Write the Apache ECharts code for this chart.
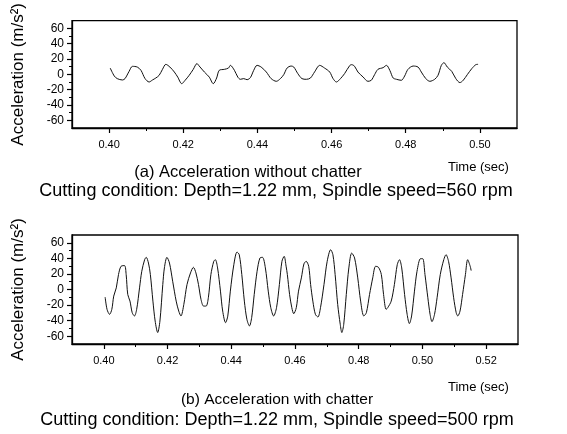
<!DOCTYPE html>
<html><head><meta charset="utf-8">
<script src="https://cdn.jsdelivr.net/npm/echarts@6/dist/echarts.min.js"></script>
<style>html,body{margin:0;padding:0;background:#fff}#c{width:567px;height:434px}</style>
</head><body><div id="c"></div>
<script>
// (a) without chatter: time (s), acceleration (m/s^2)
const timeA = [0.4003,0.4014,0.4022,0.4036,0.4043,0.4054,0.4063,0.4076,0.4086,0.4097,0.4108,0.4117,0.4126,0.4135,0.4144,0.4153,0.4164,0.4176,0.4185,0.4196,0.4205,0.4216,0.4227,0.4237,0.4243,0.4257,0.4270,0.4281,0.4290,0.4297,0.4311,0.4322,0.4327,0.4338,0.4347,0.4354,0.4363,0.4372,0.4381,0.4390,0.4399,0.4410,0.4424,0.4437,0.4451,0.4462,0.4471,0.4480,0.4491,0.4498,0.4509,0.4520,0.4532,0.4543,0.4554,0.4568,0.4581,0.4595,0.4604,0.4613,0.4624,0.4635,0.4649,0.4654,0.4662,0.4671,0.4685,0.4698,0.4707,0.4716,0.4725,0.4739,0.4748,0.4757,0.4766,0.4775,0.4788,0.4797,0.4806,0.4820,0.4833,0.4842,0.4854,0.4865,0.4878,0.4887,0.4896,0.4903,0.4912,0.4924,0.4935,0.4946,0.4955,0.4966,0.4978,0.4989,0.4995];
const accelA = [8.2,-2.2,-5.6,-7.4,-5.6,3.9,10.4,9.5,5.2,-5.6,-10,-7.4,-4.8,-1.3,6.5,13,9.5,3,-3.5,-12.2,-7.8,-1.3,6.5,14,10.8,3,-3.5,-12.2,-4.8,5.2,6.5,8.2,11.7,5.2,-3.5,-6.5,-5.6,-7,-4.3,5.2,11.7,9.5,3,-5.6,-9.1,-5.6,-0.4,8.2,10.8,9.5,0.9,-5.6,-6.5,-4.8,3,11.7,8.2,3,-5.6,-10,-5.6,0.9,11.5,12.6,10.5,3,-3.5,-9.1,-7.8,-0.4,6.5,8.7,11.7,5.2,-4.8,-6.5,-7.8,-2.2,6.5,10.8,9.5,3,-5.6,-9.1,-6.5,-1.3,11.7,15.2,9.5,3.9,-5.6,-10.8,-7.8,-0.4,7.4,12.6,13];
// (b) with chatter
const timeB = [0.4004,0.4010,0.4018,0.4025,0.4031,0.4039,0.4046,0.4054,0.4065,0.4070,0.4075,0.4082,0.4089,0.4096,0.4103,0.4112,0.4119,0.4128,0.4133,0.4140,0.4146,0.4154,0.4161,0.4169,0.4176,0.4185,0.4190,0.4198,0.4206,0.4216,0.4227,0.4235,0.4242,0.4251,0.4261,0.4272,0.4281,0.4289,0.4297,0.4305,0.4313,0.4321,0.4328,0.4336,0.4345,0.4350,0.4357,0.4366,0.4373,0.4382,0.4389,0.4397,0.4408,0.4418,0.4425,0.4433,0.4441,0.4449,0.4457,0.4464,0.4472,0.4481,0.4490,0.4498,0.4507,0.4516,0.4524,0.4533,0.4542,0.4551,0.4559,0.4566,0.4572,0.4576,0.4583,0.4590,0.4596,0.4604,0.4611,0.4620,0.4628,0.4635,0.4643,0.4649,0.4656,0.4664,0.4672,0.4680,0.4691,0.4701,0.4712,0.4719,0.4726,0.4734,0.4742,0.4747,0.4753,0.4761,0.4769,0.4778,0.4787,0.4797,0.4806,0.4816,0.4824,0.4834,0.4844,0.4853,0.4862,0.4871,0.4878,0.4886,0.4891,0.4902,0.4912,0.4921,0.4928,0.4935,0.4944,0.4952,0.4959,0.4966,0.4975,0.4983,0.4994,0.5001,0.5008,0.5017,0.5024,0.5030,0.5038,0.5046,0.5056,0.5067,0.5074,0.5082,0.5090,0.5098,0.5106,0.5111,0.5118,0.5126,0.5135,0.5142,0.5150,0.5153];
const accelB = [-9.8,-25.5,-31.9,-25.5,-8.5,2.1,19.2,29.8,30.7,19.2,-6.4,-14.9,-29.8,-34,-25.5,2.1,23.4,38.3,41.3,34,19.2,-14.9,-40.5,-55.3,-40.5,6.4,27.7,41.3,34,10.6,-14.9,-27.7,-34,-19.2,6.4,21.3,28.5,21.3,6.4,-12.8,-21.3,-21.3,-10.6,19.2,36.2,38.3,27.7,-2.1,-27.7,-42.6,-34,-2.1,31.9,48.1,44.7,19.2,-14.9,-38.3,-46.8,-36.2,-6.4,23.4,40.5,41.3,27.7,-2.1,-23.4,-34,-23.4,6.4,36.2,42.6,30,19.2,-6.4,-23.4,-31.1,-23.4,-2.1,14.9,32.8,36.2,29.8,6.4,-14.9,-31.9,-35.3,-23.4,6.4,36.2,51.1,44.7,19.2,-19.2,-44.7,-55.3,-44.7,-6.4,27.7,46.8,40.5,14.9,-14.9,-34,-29.8,-6.4,14.9,29.8,28.5,19.2,-6.4,-25.5,-23.4,-14.9,6.4,31.9,38.3,27.7,-6.4,-31.9,-43.8,-34,-2.1,23.4,39.6,39.6,19.2,-10.6,-31.9,-41.3,-31.9,-10.6,19.2,38.3,44.7,36.2,14.9,-10.6,-29.8,-34,-27.7,-6.4,19.2,38.3,29.8,24.3];

const yMajor = [-60,-40,-20,0,20,40,60];
const yMinor = [-50,-30,-10,10,30,50];
const xMajorA = [0.40,0.42,0.44,0.46,0.48,0.50];
const xMinorA = [0.41,0.43,0.45,0.47,0.49];
const xMajorB = [0.40,0.42,0.44,0.46,0.48,0.50,0.52];
const xMinorB = [0.41,0.43,0.45,0.47,0.49,0.51];

const yTitle = 'Acceleration (m/s\u00B2)';
const xTitle = 'Time (sec)';
const captionA1 = '(a) Acceleration without chatter';
const captionA2 = 'Cutting condition: Depth=1.22 mm, Spindle speed=560 rpm';
const captionB1 = '(b) Acceleration with chatter';
const captionB2 = 'Cutting condition: Depth=1.22 mm, Spindle speed=500 rpm';

const FONT = 'Arial, "Liberation Sans", sans-serif';
const axisLine = {show:true, onZero:false, lineStyle:{color:'#000', width:1.3}};

function xAxes(gi, min, max, major, minor){
  return [{
    type:'value', gridIndex:gi, min:min, max:max, position:'bottom',
    axisLine:axisLine, splitLine:{show:false},
    axisTick:{show:true, customValues:major, length:5, lineStyle:{color:'#000', width:1.2}},
    axisLabel:{customValues:major, formatter:v=>v.toFixed(2), color:'#000', fontSize:11, fontFamily:FONT, margin:11}
  },{
    type:'value', gridIndex:gi, min:min, max:max, position:'bottom',
    axisLine:{show:false, onZero:false}, splitLine:{show:false}, axisLabel:{show:false},
    axisTick:{show:true, customValues:minor, length:3, lineStyle:{color:'#000', width:1}}
  }];
}
function yAxes(gi){
  return [{
    type:'value', gridIndex:gi, min:-70, max:70, position:'left',
    axisLine:axisLine, splitLine:{show:false},
    axisTick:{show:true, customValues:yMajor, length:5, lineStyle:{color:'#000', width:1.2}},
    axisLabel:{customValues:yMajor, color:'#000', fontSize:12, fontFamily:FONT, margin:8},
    name:yTitle, nameLocation:'middle', nameRotate:90, nameGap:45,
    nameTextStyle:{color:'#000', fontSize:17, fontFamily:FONT}
  },{
    type:'value', gridIndex:gi, min:-70, max:70, position:'left',
    axisLine:{show:false, onZero:false}, splitLine:{show:false}, axisLabel:{show:false},
    axisTick:{show:true, customValues:yMinor, length:3, lineStyle:{color:'#000', width:1}}
  }];
}

const chart = echarts.init(document.getElementById('c'), null, {renderer:'canvas'});
chart.setOption({
  backgroundColor:'#fff',
  animation:false,
  grid:[
    {left:72, top:20, width:445, height:108, show:true, borderColor:'#000', borderWidth:1.3, backgroundColor:'transparent'},
    {left:72, top:235, width:446, height:109, show:true, borderColor:'#000', borderWidth:1.3, backgroundColor:'transparent'}
  ],
  xAxis:[...xAxes(0,0.39,0.51,xMajorA,xMinorA), ...xAxes(1,0.39,0.53,xMajorB,xMinorB)],
  yAxis:[...yAxes(0), ...yAxes(1)],
  series:[
    {type:'line', xAxisIndex:0, yAxisIndex:0, data:timeA.map((t,i)=>[t,accelA[i]]), showSymbol:false, smooth:0.3, lineStyle:{color:'#111', width:1}},
    {type:'line', xAxisIndex:2, yAxisIndex:2, data:timeB.map((t,i)=>[t,accelB[i]]), showSymbol:false, smooth:0.3, lineStyle:{color:'#111', width:1}}
  ],
  graphic:[
    {type:'text', left:448, top:161, style:{text:xTitle, fill:'#000', font:'13px '+FONT}},
    {type:'text', x:248, y:172, style:{text:captionA1, fill:'#000', font:'16.5px '+FONT, align:'center', verticalAlign:'middle'}},
    {type:'text', x:276, y:191, style:{text:captionA2, fill:'#000', font:'18px '+FONT, align:'center', verticalAlign:'middle'}},
    {type:'text', left:448, top:381, style:{text:xTitle, fill:'#000', font:'13px '+FONT}},
    {type:'text', x:277, y:400, style:{text:captionB1, fill:'#000', font:'15.5px '+FONT, align:'center', verticalAlign:'middle'}},
    {type:'text', x:277, y:420, style:{text:captionB2, fill:'#000', font:'18px '+FONT, align:'center', verticalAlign:'middle'}}
  ]
});
</script></body></html>
